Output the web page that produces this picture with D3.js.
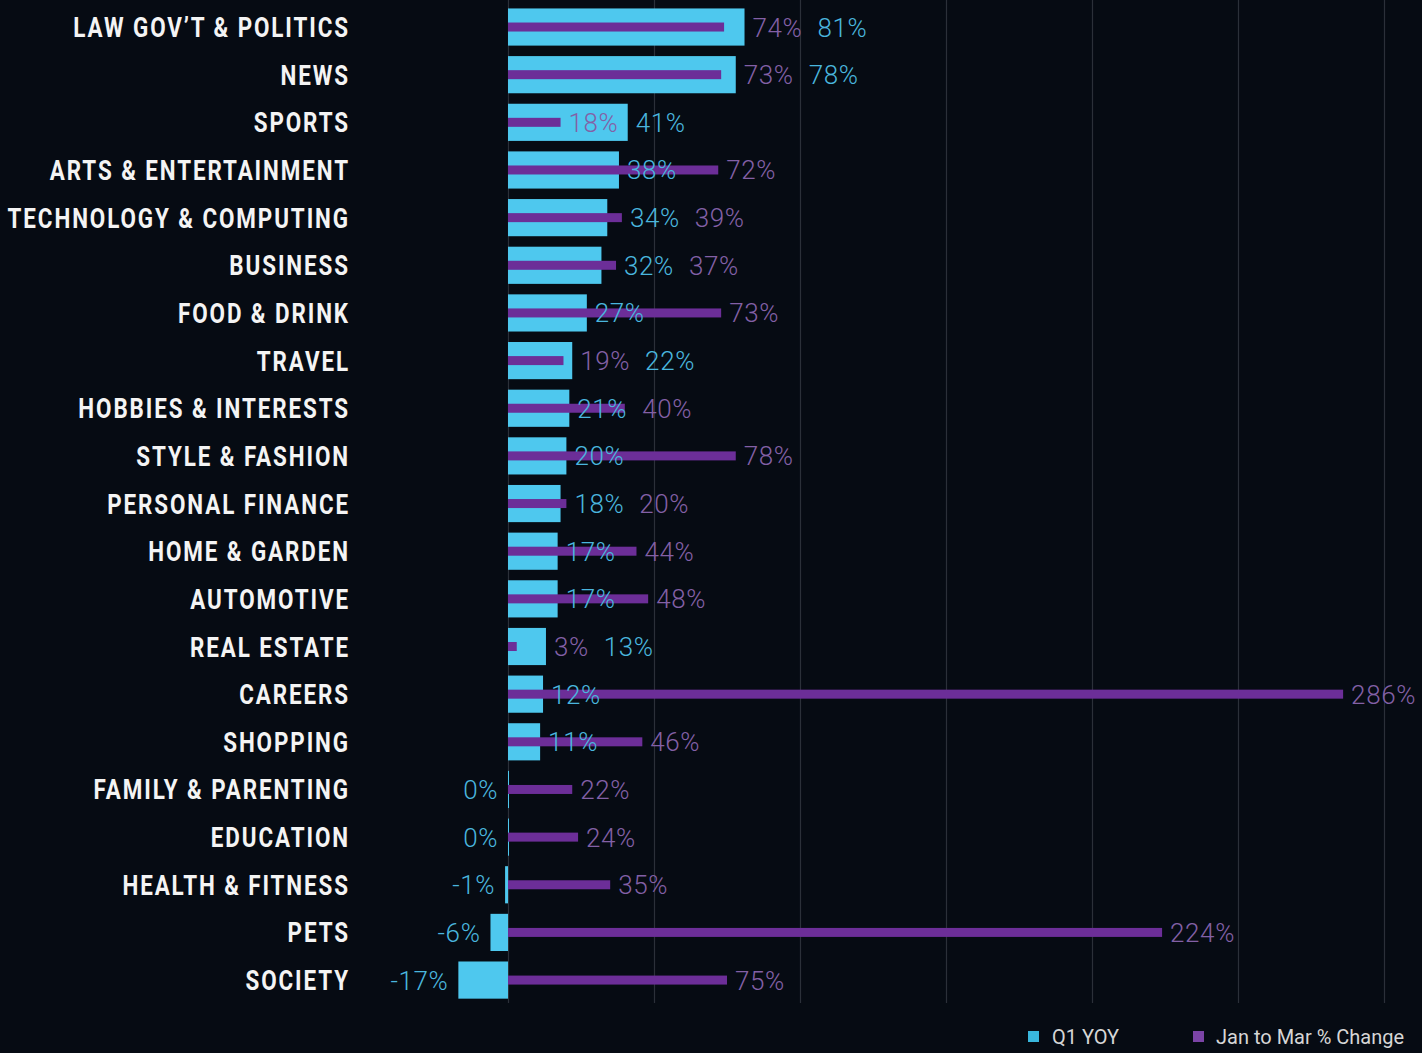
<!DOCTYPE html>
<html><head><meta charset="utf-8">
<script src="https://cdn.jsdelivr.net/npm/d3@7"></script>
<style>
html,body{margin:0;padding:0;background:#060b13;}
svg{display:block;}
</style></head>
<body>
<svg id="chart" width="1422" height="1053"></svg>
<script>
const categories = ["LAW GOV\u2019T & POLITICS","NEWS","SPORTS","ARTS & ENTERTAINMENT","TECHNOLOGY & COMPUTING","BUSINESS","FOOD & DRINK","TRAVEL","HOBBIES & INTERESTS","STYLE & FASHION","PERSONAL FINANCE","HOME & GARDEN","AUTOMOTIVE","REAL ESTATE","CAREERS","SHOPPING","FAMILY & PARENTING","EDUCATION","HEALTH & FITNESS","PETS","SOCIETY"];
const q1Yoy = [81,78,41,38,34,32,27,22,21,20,18,17,17,13,12,11,0,0,-1,-6,-17];
const janToMar = [74,73,18,72,39,37,73,19,40,78,20,44,48,3,286,46,22,24,35,224,75];
const seriesNames = ["Q1 YOY","Jan to Mar % Change"];
const gridTicks = [0,50,100,150,200,250,300];

const W = 1422, H = 1053;
const BLUE = "#4ec8ee", BLUE_T = "#4ab6de", PURPLE = "#6c2e98", PURPLE_T = "#8360a6";
const svg = d3.select("#chart");

const x = d3.scaleLinear().domain([0,300]).range([508,1384]);
const y = d3.scaleBand().domain(categories).range([3.2,1003.9]).paddingInner(0.22).paddingOuter(0.11);

// gridlines
svg.append("g").selectAll("line").data(gridTicks).join("line")
  .attr("x1", d=>x(d)+0.5).attr("x2", d=>x(d)+0.5)
  .attr("y1", 0).attr("y2", 1003)
  .attr("stroke", "#2b3039").attr("stroke-width", 1.2);

const rows = categories.map((c,i)=>({cat:c, b:q1Yoy[i], p:janToMar[i]}));

// blue bars
svg.append("g").selectAll("rect").data(rows).join("rect")
  .attr("x", d=>x(Math.min(0,d.b)))
  .attr("width", d=>Math.max(1, Math.abs(x(d.b)-x(0))))
  .attr("y", d=>y(d.cat))
  .attr("height", y.bandwidth())
  .attr("fill", BLUE);

// purple bars
const ph = 9;
svg.append("g").selectAll("rect").data(rows).join("rect")
  .attr("x", d=>x(Math.min(0,d.p)))
  .attr("width", d=>Math.abs(x(d.p)-x(0)))
  .attr("y", d=>y(d.cat)+y.bandwidth()/2-ph/2)
  .attr("height", ph)
  .attr("fill", PURPLE);

// category labels
const catG = svg.append("g");
rows.forEach(d=>{
  const cy = y(d.cat)+y.bandwidth()/2;
  catG.append("text")
    .attr("transform", `translate(350,${cy+10}) scale(0.83,1)`)
    .attr("text-anchor","end")
    .attr("font-family","Roboto, 'DejaVu Sans', sans-serif")
    .attr("font-weight",700)
    .attr("font-size",27)
    .attr("letter-spacing","2.3px")
    .attr("fill","#f4f4f4")
    .text(d.cat);
});

// value labels
const labG = svg.append("g")
  .attr("font-family","Roboto, 'Open Sans', sans-serif")
  .attr("font-weight",300)
  .attr("font-size",26)
  .attr("letter-spacing","0.6px");
const fmt = v => v + "%";
rows.forEach(d=>{
  const cy = y(d.cat)+y.bandwidth()/2 + 9.5;
  const items = [{v:d.b, col:BLUE_T},{v:d.p, col:PURPLE_T}];
  const pos = [];
  items.forEach(it=>{
    it.t = labG.append("text").attr("y",cy).attr("fill",it.col).text(fmt(it.v));
    it.w = it.t.node().getComputedTextLength();
    if (it.v <= 0) {
      it.t.attr("x", x(Math.min(0,it.v)) - 10).attr("text-anchor","end");
    } else pos.push(it);
  });
  pos.sort((a,b)=>a.v-b.v);
  if (pos.length === 1) {
    pos[0].t.attr("x", x(pos[0].v)+8);
  } else if (pos.length === 2) {
    const s = pos[0], l = pos[1];
    let xs = x(s.v)+8;
    const xl0 = x(l.v)+8;
    if (xs + s.w > xl0) xs = xl0;
    const xl = Math.max(xl0, xs + s.w + 15);
    s.t.attr("x", xs);
    l.t.attr("x", xl);
  }
});

// legend
const leg = svg.append("g").attr("font-family","Roboto, sans-serif").attr("font-size",20).attr("fill","#d6d6d6");
const legItems = [{name:seriesNames[0], col:"#39b7dd", x:1028, tx:1052},{name:seriesNames[1], col:"#7b44a6", x:1193, tx:1216}];
legItems.forEach(li=>{
  leg.append("rect").attr("x",li.x).attr("y",1031).attr("width",11).attr("height",11).attr("fill",li.col);
  leg.append("text").attr("x",li.tx).attr("y",1044).text(li.name);
});
</script>
</body></html>
